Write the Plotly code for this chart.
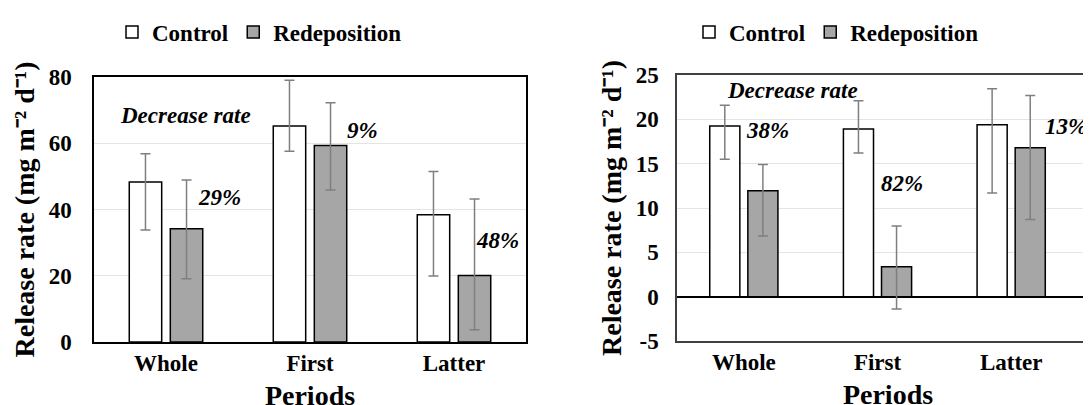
import plotly.graph_objects as go

periods = ["Whole", "First", "Latter"]

# Left panel
left_control = [48.3, 65.2, 38.4]
left_control_plus = [8.5, 13.8, 13.1]
left_control_minus = [14.5, 7.6, 18.5]
left_redep = [34.2, 59.3, 20.1]
left_redep_plus = [14.7, 12.9, 23.1]
left_redep_minus = [15.1, 13.4, 16.4]
left_pct = ["29%", "9%", "48%"]
left_yticks = [0, 20, 40, 60, 80]

# Right panel
right_control = [19.25, 18.9, 19.4]
right_control_plus = [2.35, 3.2, 4.05]
right_control_minus = [3.75, 2.7, 7.7]
right_redep = [11.95, 3.38, 16.8]
right_redep_plus = [2.95, 4.6, 5.9]
right_redep_minus = [5.1, 4.77, 8.1]
right_pct = ["38%", "82%", "13%"]
right_yticks = [-5, 0, 5, 10, 15, 20, 25]

FONT = "Liberation Serif"
W, H = 1091, 405
FS = 23


def b(s):
    return f"<b>{s}</b>"


def err(plus, minus):
    return dict(type="data", symmetric=False, array=plus, arrayminus=minus,
                color="#7f7f7f", thickness=1.5, width=5)


fig = go.Figure()
fig.add_trace(go.Bar(x=periods, y=left_control, name=b("Control"),
                     marker=dict(color="white", line=dict(color="black", width=1.5)),
                     error_y=err(left_control_plus, left_control_minus),
                     xaxis="x", yaxis="y"))
fig.add_trace(go.Bar(x=periods, y=left_redep, name=b("Redeposition"),
                     marker=dict(color="#a6a6a6", line=dict(color="black", width=1.5)),
                     error_y=err(left_redep_plus, left_redep_minus),
                     xaxis="x", yaxis="y"))
fig.add_trace(go.Bar(x=periods, y=right_control, name=b("Control"),
                     marker=dict(color="white", line=dict(color="black", width=1.5)),
                     error_y=err(right_control_plus, right_control_minus),
                     xaxis="x2", yaxis="y2", legend="legend2"))
fig.add_trace(go.Bar(x=periods, y=right_redep, name=b("Redeposition"),
                     marker=dict(color="#a6a6a6", line=dict(color="black", width=1.5)),
                     error_y=err(right_redep_plus, right_redep_minus),
                     xaxis="x2", yaxis="y2", legend="legend2"))

ytitle = b("Release rate (mg m\u207b\u00b2 d\u207b\u00b9)")


def px_x(p):
    return p / W


def px_y(p):
    return 1 - p / H


common_x = dict(type="category", showgrid=False, ticks="",
                automargin=False,
                tickvals=periods, ticktext=[b(p) for p in periods],
                title=dict(text=b("Periods"), standoff=10))
common_y = dict(showgrid=True, gridcolor="#e4e4e4", gridwidth=1,
                ticks="outside", tickcolor="white",
                automargin=False,
                title=dict(text=ytitle, standoff=6))

fig.update_layout(
    template="none",
    width=W, height=H,
    margin=dict(l=0, r=0, t=0, b=0),
    paper_bgcolor="white", plot_bgcolor="white",
    font=dict(family=FONT, size=FS, color="black"),
    barmode="group", bargap=0.43, bargroupgap=0.21,
    xaxis=dict(common_x, domain=[px_x(86), px_x(518)], range=[-0.5, 2.5],
               anchor="y", showline=True, linecolor="black", linewidth=1.5, mirror=True),
    yaxis=dict(common_y, domain=[px_y(334), px_y(69)], range=[0, 80],
               tickvals=left_yticks, ticktext=[b(v) for v in left_yticks], ticklen=16,
               anchor="x", showline=True, linecolor="black", linewidth=1.5, mirror=True,
               zeroline=False),
    xaxis2=dict(common_x, domain=[px_x(669), 1.0], range=[-0.5, 2.657],
                anchor="y2", showline=True, linecolor="#404040", linewidth=1.5, mirror=True),
    yaxis2=dict(common_y, domain=[px_y(333), px_y(67)], range=[-5, 25],
                tickvals=right_yticks, ticktext=[b(v) for v in right_yticks], ticklen=12,
                anchor="x2", showline=True, linecolor="#404040", linewidth=1.5, mirror=False,
                zeroline=True, zerolinecolor="black", zerolinewidth=1.5),
    legend=dict(orientation="h", x=px_x(104), xanchor="left", y=px_y(24), yanchor="middle",
                bgcolor="white"),
    legend2=dict(orientation="h", x=px_x(681), xanchor="left", y=px_y(24), yanchor="middle",
                 bgcolor="white"),
    showlegend=True,
)

# Left annotations
fig.add_annotation(x=0.132, y=68.5, xref="x", yref="y", text="<b><i>Decrease rate</i></b>",
                   showarrow=False)
left_pos = [(0.372, 43.5), (1.368, 64.0), (2.305, 30.5)]
for (xx, yy), t in zip(left_pos, left_pct):
    fig.add_annotation(x=xx, y=yy, xref="x", yref="y", text=f"<b><i>{t}</i></b>",
                       showarrow=False)

# Right annotations
fig.add_annotation(x=0.364, y=23.3, xref="x2", yref="y2", text="<b><i>Decrease rate</i></b>",
                   showarrow=False)
right_pos = [(0.18, 18.7), (1.183, 12.8), (2.41, 19.2)]
for (xx, yy), t in zip(right_pos, right_pct):
    fig.add_annotation(x=xx, y=yy, xref="x2", yref="y2", text=f"<b><i>{t}</i></b>",
                       showarrow=False)

fig.write_html("out.html")
